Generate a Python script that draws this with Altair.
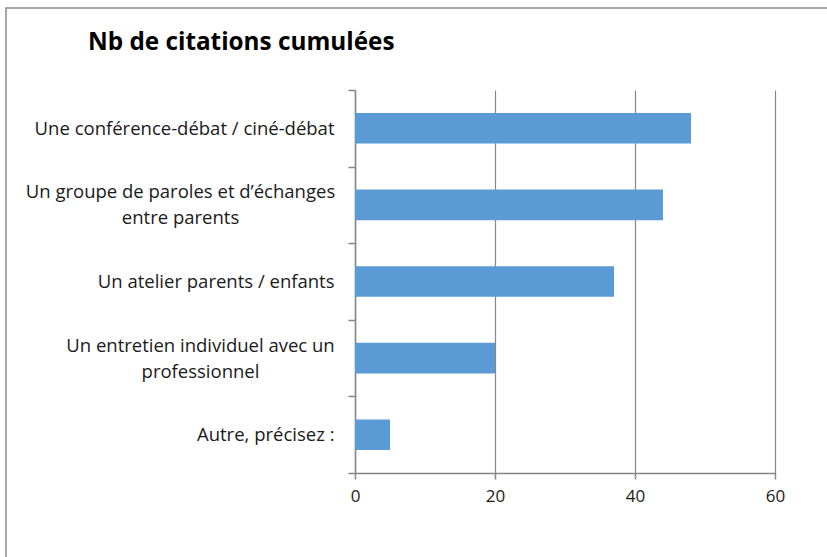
import json
import altair as alt
import pandas as pd

# Responses (cumulative number of mentions per format)
categories = [
    "Une conférence-débat / ciné-débat",
    "Un groupe de paroles et d’échanges\nentre parents",
    "Un atelier parents / enfants",
    "Un entretien individuel avec un\nprofessionnel",
    "Autre, précisez :",
]
counts = [48, 44, 37, 20, 5]
x_ticks = [0, 20, 40, 60]
title_text = "Nb de citations cumulées"

df = pd.DataFrame({"categorie": categories, "citations": counts})

FONT = "Open Sans"
GREY = "#868686"
TEXT = "#1a1a1a"
BAR = "#5b9bd5"

W, H = 420, 383
PAD = {"left": 355, "top": 90, "right": 52, "bottom": 84}
LINE_H = 26

# Two-line labels are centred on their own block (horizontally and vertically);
# single-line ones are right-aligned against the axis
two_line = [c for c in categories if "\n" in c]
half_width = {two_line[0]: 154, two_line[1]: 134}
pad_conditions = [
    {"test": f"datum.value === {json.dumps(c)}", "value": 14 + half_width[c]}
    for c in two_line
]
multi_test = " || ".join(f"datum.value === {json.dumps(c)}" for c in two_line)

y_axis = alt.Axis(
    title=None,
    labelExpr="split(datum.label, '\\n')",
    labelFont=FONT,
    labelFontSize=18.5,
    labelColor=TEXT,
    labelLimit=400,
    labelLineHeight=LINE_H,
    labelBaseline="middle",
    labelAlign={"condition": {"test": multi_test, "value": "center"}, "value": "right"},
    labelPadding={"condition": pad_conditions, "value": 14},
    labelOffset={"condition": {"test": multi_test, "value": -LINE_H / 2}, "value": 0},
    tickBand="extent",
    tickSize=7,
    tickColor=GREY,
    tickWidth=1.5,
    domainColor=GREY,
    domainWidth=1.5,
    grid=False,
)

x_axis = alt.Axis(
    title=None,
    values=x_ticks,
    labelFont=FONT,
    labelFontSize=17,
    labelColor=TEXT,
    labelPadding=9,
    labelFlush=False,
    tickSize=6,
    tickColor=GREY,
    tickWidth=1.5,
    domainColor=GREY,
    domainWidth=1.5,
    grid=True,
    gridColor=GREY,
    gridWidth=1.2,
)

# Bars fill 40% of each category band, centred in it
bars = alt.Chart(df).mark_bar(color=BAR, height={"band": 0.4}).encode(
    x=alt.X("citations:Q", scale=alt.Scale(domain=[0, 60], nice=False), axis=x_axis),
    y=alt.Y(
        "categorie:N",
        sort=categories,
        scale=alt.Scale(paddingInner=0, paddingOuter=0),
        axis=y_axis,
    ),
)

# Outer frame around the whole figure
frame = alt.Chart(alt.Data(values=[{}])).mark_rect(
    fill=None, stroke="#8c8c8c", strokeWidth=1.5, clip=False
).encode(
    x=alt.value(-349),
    x2=alt.value(W + 70),
    y=alt.value(-82),
    y2=alt.value(H + 100),
)

# Chart heading, top-left inside the frame
heading = alt.Chart(alt.Data(values=[{"t": title_text}])).mark_text(
    font=FONT,
    fontSize=24.3,
    fontWeight="bold",
    color="#000000",
    align="left",
    baseline="alphabetic",
).encode(
    text="t:N",
    x=alt.value(-267),
    y=alt.value(-40),
)

chart = (
    alt.layer(frame, bars, heading)
    .properties(
        width=W,
        height=H,
        padding=PAD,
        autosize=alt.AutoSizeParams(type="none"),
        background="white",
    )
    .configure_view(stroke=None)
)

chart.save("out.html", embed_options={"renderer": "svg", "actions": False})
